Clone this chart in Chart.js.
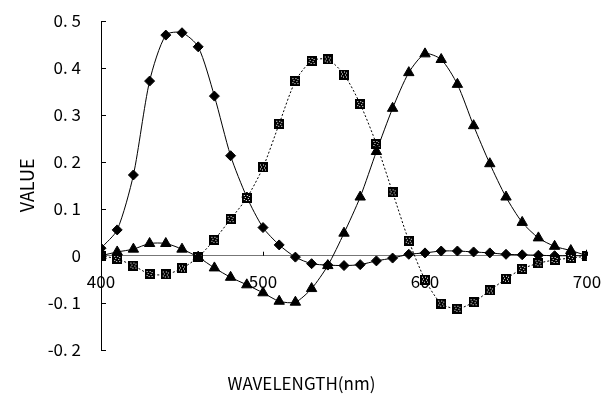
<!DOCTYPE html>
<html>
<head>
<meta charset="utf-8">
<script src="https://cdn.jsdelivr.net/npm/chart.js@4"></script>
<style>
  html, body { margin: 0; padding: 0; background: #fff; }
  #wrap { width: 612px; height: 404px; position: relative; }
</style>
</head>
<body>
<div id="wrap"><canvas id="lineChart"></canvas></div>
<script>
// wavelengths (nm), one point every 10 nm
var wavelengths = [400, 410, 420, 430, 440, 450, 460, 470, 480, 490, 500, 510, 520, 530, 540, 550,
  560, 570, 580, 590, 600, 610, 620, 630, 640, 650, 660, 670, 680, 690, 700];

// diamond series
var diamondValues = [0.016, 0.055, 0.172, 0.372, 0.470, 0.475, 0.445, 0.340, 0.213, 0.125, 0.060,
  0.023, -0.003, -0.017, -0.020, -0.021, -0.019, -0.011, -0.005, 0.003, 0.006, 0.010, 0.010,
  0.008, 0.006, 0.003, 0.002, 0.001, 0.000, 0.000, 0.000];

// square series
var squareValues = [0.000, -0.007, -0.021, -0.039, -0.040, -0.027, -0.003, 0.034, 0.078, 0.123,
  0.188, 0.281, 0.372, 0.415, 0.418, 0.386, 0.323, 0.238, 0.135, 0.032, -0.051, -0.102, -0.113,
  -0.099, -0.074, -0.049, -0.028, -0.016, -0.009, -0.005, -0.001];

// triangle series
var triangleValues = [0.000, 0.008, 0.014, 0.026, 0.026, 0.014, -0.003, -0.026, -0.046, -0.062,
  -0.079, -0.097, -0.099, -0.070, -0.021, 0.048, 0.125, 0.222, 0.314, 0.390, 0.430, 0.418, 0.365,
  0.277, 0.196, 0.125, 0.071, 0.038, 0.020, 0.011, 0.000];

var xTicks = [400, 500, 600, 700];
var yTicks = [-0.2, -0.1, 0, 0.1, 0.2, 0.3, 0.4, 0.5];

var fontFamily = "'Noto Sans CJK JP', 'DejaVu Sans', sans-serif";

function toPoints(vals) {
  return vals.map(function(v, i) { return { x: wavelengths[i], y: v }; });
}

// black square marker with a speckled white pattern
function makeSquareMarker() {
  var c = document.createElement('canvas');
  c.width = 10; c.height = 10;
  var g = c.getContext('2d');
  g.fillStyle = '#000';
  g.fillRect(0, 0, 10, 10);
  g.fillStyle = '#fff';
  var dots = [[2, 2], [5, 2], [7, 3], [3, 4], [6, 5], [2, 6], [4, 7], [7, 7]];
  dots.forEach(function(d) { g.fillRect(d[0], d[1], 1, 1); });
  return c;
}

// small ticks pointing into the plot, like the original
var innerTicks = {
  id: 'innerTicks',
  afterDatasetsDraw: function(chart) {
    var ctx = chart.ctx, xs = chart.scales.x, ys = chart.scales.y;
    var left = chart.chartArea.left, y0 = ys.getPixelForValue(0);
    ctx.save();
    ctx.strokeStyle = '#000';
    ctx.lineWidth = 1;
    ctx.beginPath();
    yTicks.forEach(function(v) {
      var py = Math.round(ys.getPixelForValue(v)) + 0.5;
      ctx.moveTo(left, py); ctx.lineTo(left + 5, py);
    });
    xTicks.forEach(function(v) {
      var px = Math.round(xs.getPixelForValue(v)) + 0.5;
      ctx.moveTo(px, y0); ctx.lineTo(px, y0 - 4);
    });
    ctx.stroke();
    ctx.restore();
  }
};

var ctx = document.getElementById('lineChart').getContext('2d');
var chart = new Chart(ctx, {
  type: 'line',
  data: {
    datasets: [
      {
        label: 'triangle',
        data: toPoints(triangleValues),
        borderColor: '#000',
        backgroundColor: '#000',
        borderWidth: 1,
        pointStyle: 'triangle',
        pointRadius: 6,
        tension: 0.25,
        order: 1
      },
      {
        label: 'square',
        data: toPoints(squareValues),
        borderColor: '#000',
        backgroundColor: '#000',
        borderWidth: 1,
        borderDash: [2, 2],
        pointStyle: makeSquareMarker(),
        pointRadius: 5,
        tension: 0.25,
        order: 2
      },
      {
        label: 'diamond',
        data: toPoints(diamondValues),
        borderColor: '#000',
        backgroundColor: '#000',
        borderWidth: 1,
        pointStyle: 'rectRot',
        pointRadius: 5,
        tension: 0.25,
        order: 3
      }
    ]
  },
  options: {
    responsive: true,
    maintainAspectRatio: false,
    animation: false,
    layout: { padding: { top: 21, right: 25, bottom: 6, left: 16 } },
    plugins: {
      legend: { display: false },
      tooltip: { enabled: false },
      title: {
        display: true,
        position: 'bottom',
        text: 'WAVELENGTH(nm)',
        color: '#000',
        font: { family: fontFamily, size: 17, weight: 'normal' },
        padding: { top: 24, bottom: 4 }
      }
    },
    scales: {
      x: {
        type: 'linear',
        position: { y: 0 },
        min: 400,
        max: 700,
        afterBuildTicks: function(scale) {
          scale.ticks = xTicks.map(function(v) { return { value: v }; });
        },
        afterFit: function(scale) { scale.height = 0; },
        grid: { display: true, drawOnChartArea: false, drawTicks: true, tickLength: 16, tickColor: 'rgba(0,0,0,0)' },
        border: { display: true, color: '#777', width: 1 },
        ticks: {
          color: '#000',
          padding: 0,
          maxRotation: 0,
          font: { family: fontFamily, size: 17 }
        }
      },
      y: {
        type: 'linear',
        min: -0.2,
        max: 0.5,
        afterBuildTicks: function(scale) {
          scale.ticks = yTicks.map(function(v) { return { value: v }; });
        },
        afterFit: function(scale) { scale.width = 85; },
        grid: { display: true, drawOnChartArea: false, drawTicks: true, tickLength: 20, tickColor: 'rgba(0,0,0,0)' },
        border: { display: true, color: '#000', width: 1 },
        title: {
          display: true,
          text: 'VALUE',
          color: '#000',
          font: { family: fontFamily, size: 18 },
          padding: { top: 0, bottom: 10 }
        },
        ticks: {
          color: '#000',
          padding: 0,
          font: { family: fontFamily, size: 17 },
          callback: function(v) {
            if (Math.abs(v) < 1e-9) return '0';
            return v.toFixed(1).replace('.', '. ');
          }
        }
      }
    }
  },
  plugins: [innerTicks]
});
</script>
</body>
</html>
